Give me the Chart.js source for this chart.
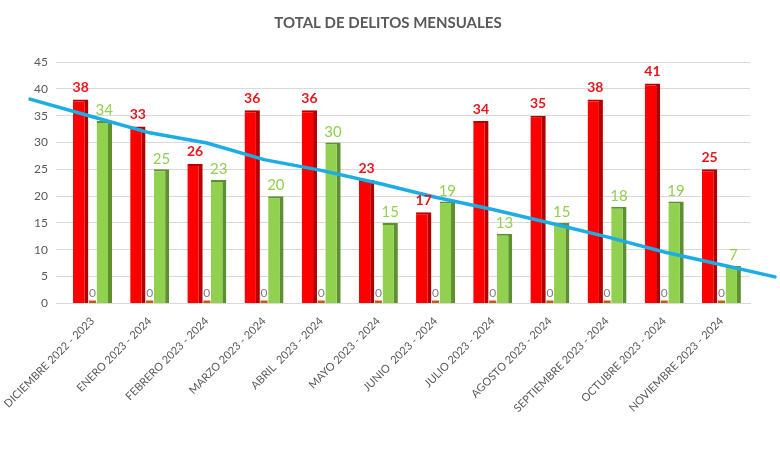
<!DOCTYPE html>
<html>
<head>
<meta charset="utf-8">
<script src="https://cdn.jsdelivr.net/npm/chart.js@4.4.1/dist/chart.umd.min.js"></script>
<style>
    html, body { margin: 0; padding: 0; background: #fff; }
    #wrap { width: 780px; height: 470px; }
</style>
</head>
<body>
<div id="wrap"><canvas id="delitosChart" width="780" height="470"></canvas></div>
<script>
const meses = [
    "DICIEMBRE 2022 - 2023", "ENERO 2023 - 2024", "FEBRERO 2023 - 2024",
    "MARZO 2023 - 2024", "ABRIL  2023 - 2024", "MAYO 2023 - 2024",
    "JUNIO  2023 - 2024", "JULIO 2023 - 2024", "AGOSTO 2023 - 2024",
    "SEPTIEMBRE 2023 - 2024", "OCTUBRE 2023 - 2024", "NOVIEMBRE 2023 - 2024"
];
const serieRoja  = [38, 33, 26, 36, 36, 23, 17, 34, 35, 38, 41, 25];
const serieCero  = [0, 0, 0, 0, 0, 0, 0, 0, 0, 0, 0, 0];
const serieVerde = [34, 25, 23, 20, 30, 15, 19, 13, 15, 18, 19, 7];
// linea azul, a la altura de cada mes
const tendencia  = [34.8, 31.8, 29.9, 26.8, 24.8, 22.4, 19.8, 17.5, 15, 12.4, 9.6, 7.2];
const ticksY = [0, 5, 10, 15, 20, 25, 30, 35, 40, 45];

// etiquetas de valor encima de cada barra
const etiquetas = {
    id: "etiquetas",
    afterDatasetsDraw(chart) {
        let ctx = chart.ctx;

        // prolongar la linea de tendencia hasta los bordes
        let lineIdx = chart.data.datasets.findIndex(d => d.type === "line");
        let pts = chart.getDatasetMeta(lineIdx).data;
        if (pts.length > 1) {
            let a = pts[0], b = pts[1];
            let c = pts[pts.length - 2], d = pts[pts.length - 1];
            let x0 = 30;
            let x1 = chart.width - 5;
            let y0 = a.y - (a.x - x0) * (b.y - a.y) / (b.x - a.x);
            let y1 = d.y + (x1 - d.x) * (d.y - c.y) / (d.x - c.x);
            ctx.save();
            ctx.strokeStyle = "#1BADE3";
            ctx.lineWidth = 3.5;
            ctx.lineCap = "round";
            ctx.beginPath();
            ctx.moveTo(x0, y0);
            ctx.lineTo(a.x, a.y);
            ctx.moveTo(d.x, d.y);
            ctx.lineTo(x1, y1);
            ctx.stroke();
            ctx.restore();
        }

        chart.data.datasets.forEach((ds, i) => {
            if (!ds.etiqueta) return;
            let meta = chart.getDatasetMeta(i);
            meta.data.forEach((bar, j) => {
                ctx.save();
                ctx.font = ds.etiqueta.font;
                ctx.fillStyle = ds.etiqueta.color;
                ctx.textAlign = "center";
                ctx.textBaseline = "bottom";
                ctx.fillText(ds.data[j], bar.x, bar.y - ds.etiqueta.gap);
                ctx.restore();
            });
        });
    }
};

new Chart(document.getElementById("delitosChart"), {
    data: {
        labels: meses,
        datasets: [
            {
                type: "line",
                data: tendencia,
                borderColor: "#1BADE3",
                borderWidth: 3.5,
                pointRadius: 0,
                order: 0
            },
            {
                type: "bar",
                data: serieRoja,
                backgroundColor: "#FF0000",
                borderColor: "#B30000",
                borderWidth: { right: 4, top: 2 },
                borderSkipped: "bottom",
                barPercentage: 1.3,
                order: 1,
                etiqueta: { font: "bold 14px Lato", color: "#E8161B", gap: 5 }
            },
            {
                type: "bar",
                data: serieCero,
                backgroundColor: "#C55A11",
                minBarLength: 3,
                barPercentage: 0.6,
                order: 1,
                etiqueta: { font: "12px Lato", color: "#7F7F7F", gap: 1 }
            },
            {
                type: "bar",
                data: serieVerde,
                backgroundColor: "#92D050",
                borderColor: "#5E8F30",
                borderWidth: { right: 4, top: 2 },
                borderSkipped: "bottom",
                barPercentage: 1.3,
                order: 1,
                etiqueta: { font: "15px Lato", color: "#92D050", gap: 3 }
            }
        ]
    },
    options: {
        responsive: false,
        animation: false,
        layout: { padding: { left: 26, right: 30, top: 4, bottom: 52 } },
        plugins: {
            legend: { display: false },
            tooltip: { enabled: false },
            title: {
                display: true,
                text: "TOTAL DE DELITOS MENSUALES",
                color: "#595959",
                font: { family: "Lato", size: 15, weight: "bold" },
                padding: { top: 10, bottom: 30 }
            }
        },
        datasets: {
            bar: { categoryPercentage: 0.62 }
        },
        scales: {
            x: {
                grid: { display: false },
                border: { color: "#D9D9D9" },
                ticks: {
                    color: "#595959",
                    font: { family: "Lato", size: 11 },
                    minRotation: 45,
                    maxRotation: 45,
                    autoSkip: false
                }
            },
            y: {
                min: 0,
                max: 45,
                afterBuildTicks(axis) {
                    axis.ticks = ticksY.map(v => ({ value: v }));
                },
                grid: { color: "#D9D9D9" },
                border: { display: false },
                ticks: {
                    color: "#595959",
                    font: { family: "Lato", size: 12 },
                    padding: 8
                }
            }
        }
    },
    plugins: [etiquetas]
});
</script>
</body>
</html>
